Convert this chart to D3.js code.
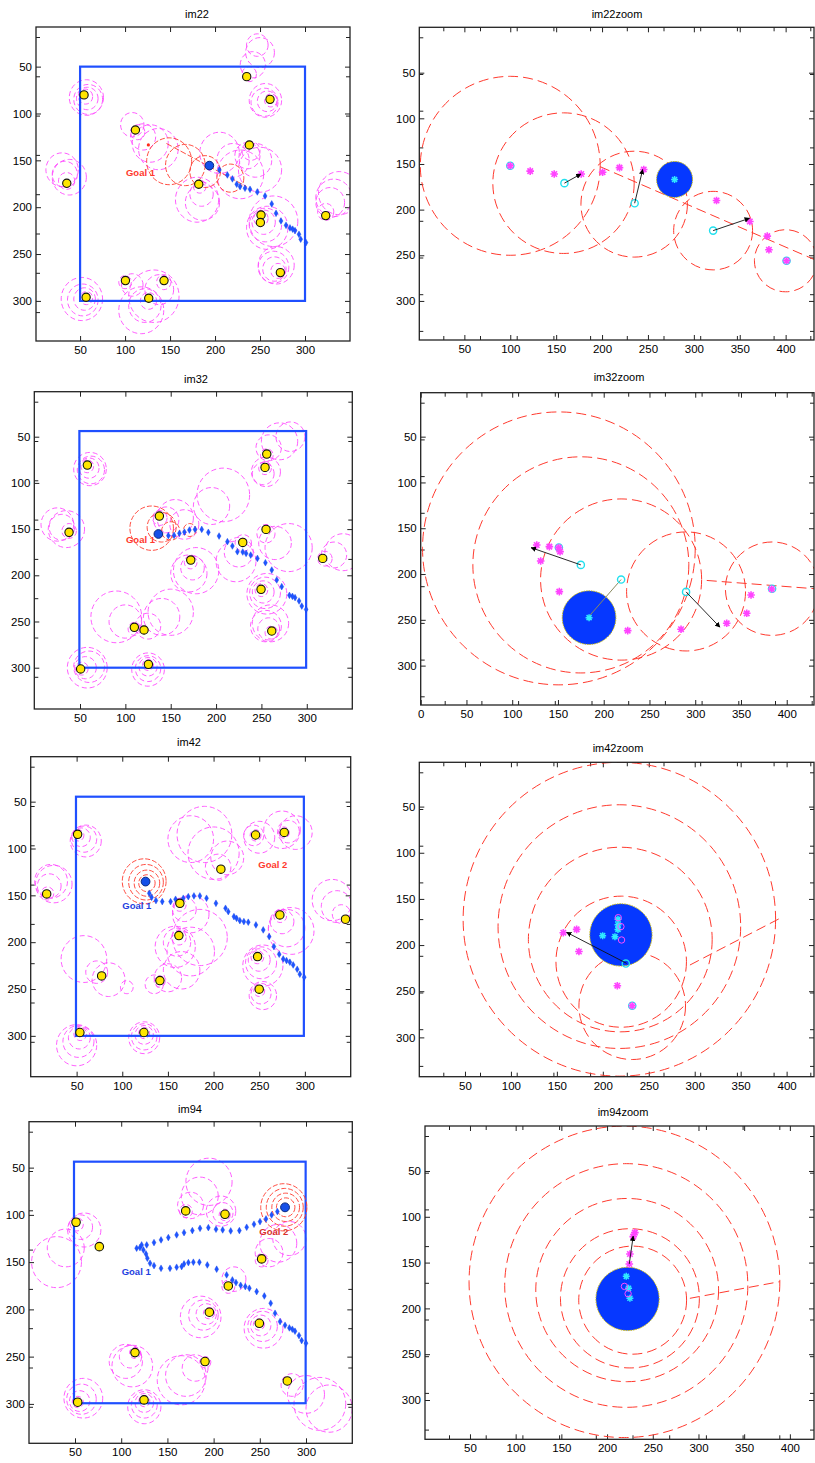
<!DOCTYPE html>
<html>
<head>
<meta charset="utf-8">
<script src="https://cdn.jsdelivr.net/npm/d3@7"></script>
<style>
body { margin: 0; background: #fff; }
svg { display: block; font-family: "Liberation Sans", Arial, Helvetica, sans-serif; }
</style>
</head>
<body>
<svg id="fig" width="815" height="1463"></svg>
<script>
// tick labels
var leftTicks = [50, 100, 150, 200, 250, 300];
var zoomXTicks = [0, 50, 100, 150, 200, 250, 300, 350, 400];
var zoomYTicks = [50, 100, 150, 200, 250, 300];

// ---------- im22 ----------
var im22Field = [50, 50, 300, 300];
var im22Obstacles = [[54.4,80.2],[235.2,60.7],[261.1,84.9],[111.5,117.6],[238.1,133.6],[35.2,174.5],[181.9,175.5],
  [251.1,208.3],[250.4,216.4],[323,209],[272.6,269.8],[100.4,278.3],[143.3,278.3],[56.7,296.1],[126.3,297.2]];
var im22Rings = [[56,82,8],[58,84,12],[59,85,16],[57,83,19],
  [238,58,8],[242,48,14],[250,35,16],[247,27,12],
  [262,86,7],[258,87,11],[255,88,15],[256,86,18],
  [114,120,8],[120,125,14],[128,132,20],[137,138,22],[108,112,13],
  [240,140,10],[245,150,18],[250,160,24],[236,145,14],[228,165,26],[205,142,22],[220,150,18],
  [35,172,9],[33,165,14],[30,160,18],[38,168,19],
  [183,178,7],[185,186,13],[186,195,19],[180,192,24],
  [251,212,8],[254,216,13],[256,219,18],[258,222,23],[265,215,27],
  [323,205,9],[328,195,16],[332,190,20],[338,185,23],
  [270,268,8],[266,266,13],[265,264,17],[268,262,20],
  [100,280,7],[108,283,12],[143,280,8],[138,288,16],[126,300,9],[122,305,18],[118,310,25],[132,295,28],
  [57,297,7],[55,298,12],[53,299,17],[52,298,23]];
var im22GoalRings = [[149,151,25],[167,155,22],[189,162,17],[217,169,15]];
var im22GoalLines = [[146,132,235,178]];
var im22Path = [[301.1,237.8],[295.2,234.2],[293.3,228.9],[288.9,225],[286.3,223.5],[283.3,222.1],[278.9,219.3],
  [273.3,214.7],[267.8,206.5],[263,196.5],[255.6,188],[247,183.7],[238.9,180.9],[233.3,179.8],[227.8,178],
  [224.1,175.5],[219.3,169.8],[213.7,165.6],[204.8,160.2]];
var im22Robot = [193.7, 155.6];
var im22Labels = [["Goal 1", 101, 164]];
var im22Dots = [[125.9, 133.6]];

// ---------- im32 ----------
var im32Field = [49.3, 43.9, 299.3, 300];
var im32Obstacles = [[58.1,80.7],[255.9,68.8],[254,83.2],[37.9,153.5],[137.5,135.9],[255.1,150.3],[229.4,164.4],
  [172.1,183.5],[317.6,181.7],[249.6,215.2],[109.9,256.3],[120.6,259.2],[261.4,260.3],[125.4,296.4],[50.7,301.4]];
var im32Rings = [[58,82,7],[60,84,11],[62,86,15],[61,85,18],
  [256,70,7],[258,62,14],[270,55,20],[282,50,16],[254,84,7],[252,90,12],[255,88,16],
  [38,152,8],[30,148,14],[25,145,18],[35,150,20],
  [138,138,8],[145,140,14],[155,138,20],[165,145,16],
  [208,113,29],[195,125,20],
  [255,155,10],[265,165,18],[280,170,26],[230,165,9],[225,175,16],[222,185,22],
  [172,186,7],[174,192,13],[170,198,20],[178,195,25],
  [320,182,8],[330,178,14],[340,175,20],
  [250,216,7],[252,218,12],[254,219,17],[256,220,22],
  [110,258,7],[100,250,18],[90,245,28],[125,255,14],[140,245,20],[150,240,25],
  [261,262,7],[258,258,12],[255,255,17],[260,252,20],
  [125,297,6],[125,299,10],[125,301,14],[125,302,18],
  [52,301,7],[56,300,12],[60,299,17],[58,300,22]];
var im32GoalRings = [[129,149,24],[140,148,16],[150,152,10],[171,151,7]];
var im32GoalLines = [];
var im32Path = [[299.3,236.9],[294.5,233.3],[291.5,227.8],[287.1,224.2],[284.2,222.8],[280.9,221.7],[272.4,212.3],
  [266.9,205.1],[261.4,194.3],[254.4,186.4],[245.6,181.7],[238.2,178.1],[233.1,176.3],[229.4,174.8],[223.5,174.5],
  [218,168.3],[212.5,163.6],[203.3,157.5],[191.5,153.5],[184.2,150.3],[176.8,150.3],[170.6,151],[165.1,153.2],
  [159.6,154.6],[153.7,156.8],[147.4,157.1]];
var im32Robot = [136.4, 155.3];
var im32Labels = [["Goal 1", 100.7, 162]];
var im32Dots = [];

// ---------- im42 ----------
var im42Field = [49.3, 44.7, 298.9, 300];
var im42Obstacles = [[51.1,84.9],[246,85.6],[277.4,82.8],[208,122.1],[17.2,148.5],[163.1,158.5],[272.6,170.9],
  [344.5,175.5],[162,193],[248.2,215.4],[77.4,236],[141.2,241],[250,250.2],[53.6,296.4],[123.7,296.4]];
var im42Rings = [[52,86,6],[55,88,10],[58,90,14],[60,92,17],
  [246,86,6],[244,86,11],[250,88,17],[277,83,6],[282,82,12],[290,83,18],[275,80,20],
  [175,90,25],[190,85,30],[200,105,28],[205,120,14],[215,110,18],
  [18,148,7],[20,140,13],[22,135,18],[25,138,20],
  [163,160,7],[168,165,13],[175,170,20],[162,195,8],[160,200,15],[158,205,22],[175,210,26],[185,195,30],
  [273,172,7],[275,178,13],[280,185,20],[285,188,25],
  [340,170,10],[335,162,17],[330,155,22],
  [248,216,7],[250,219,12],[252,222,17],[254,225,22],[250,252,6],[252,255,11],[254,257,15],
  [58,218,25],[72,232,12],[85,240,18],[105,248,7],
  [141,242,6],[135,245,10],[150,238,15],[165,230,20],
  [54,298,7],[53,302,12],[52,306,17],[50,310,22],
  [124,297,6],[124,299,10],[124,301,14],[124,302,17]];
var im42GoalRings = [[124,135,24],[126,136,19],[127,137,14],[127,137,9]];
var im42GoalLines = [];
var im42Path = [[299.3,237.4],[294.5,234.2],[291.6,228.9],[287.2,224.3],[283.6,221.4],[279.9,219.6],[276.3,217.9],
  [271.9,212.9],[266.1,204.7],[260.9,194],[254.4,186.9],[246.4,181.6],[238,178.7],[233.2,178],[228.8,177],
  [225.2,174.5],[222.3,172.7],[216.1,167.4],[213.1,163.8],[202.6,158.5],[192.3,153.1],[185,150.6],[178.5,150.6],
  [172.3,151.4],[166.8,153.1],[158.4,154.2],[152.9,156.7],[143.8,156.7],[136.9,155.6],[132.1,152.1],[129.6,147.8]];
var im42Robot = [125.5, 135.3];
var im42Labels = [["Goal 1", 100, 162], ["Goal 2", 249, 118.6]];
var im42Dots = [];

// ---------- im94 ----------
var im94Field = [48.9, 43.7, 299.6, 299.3];
var im94Obstacles = [[51.1,107.8],[76.3,133.6],[169.8,95.8],[212.3,99.4],[252,146.6],[215.9,175.2],[195.4,203],
  [249.5,214.7],[114.9,245.7],[190.7,255.2],[279.8,275.7],[52.9,298.2],[124.7,295.8]];
var im94Rings = [[52,110,7],[56,113,13],[60,116,18],[40,135,20],[30,150,27],
  [170,96,7],[175,90,14],[185,80,20],[195,65,25],[212,100,6],[210,98,11],[208,96,16],
  [252,148,7],[260,140,15],[270,130,20],[282,125,18],[216,176,7],[222,168,13],
  [195,204,6],[192,205,11],[189,206,16],[186,208,22],
  [249,216,6],[251,217,11],[253,218,16],[254,220,21],
  [115,246,6],[110,250,12],[105,255,18],[112,260,22],
  [191,256,6],[180,262,14],[170,270,22],[165,275,26],
  [285,280,12],[300,290,20],[315,300,28],[325,305,25],
  [53,298,6],[55,297,11],[57,295,16],[59,294,21],
  [125,297,6],[125,299,10],[125,301,14],[125,303,18]];
var im94GoalRings = [[276,92,25],[277,92,20],[278,92,15],[278,92,10]];
var im94GoalLines = [];
var im94Path = [[300,235.8],[295.3,233],[292.4,227.7],[288.1,223.1],[285.2,221],[282,219.6],[277.3,216.8],
  [271.9,212.9],[266.5,204.1],[261.8,193.5],[254.9,185.8],[246.6,181.2],[238.7,177.6],[234.3,175.9],[229.3,174.5],
  [224.2,171.6],[220.3,168.8],[214.1,163.5],[203.3,157.5],[193.2,153],[184.6,150.1],[178.1,150.1],[172.7,150.5],
  [168,151.9],[165.4,154.7],[160,155.4],[152.8,156.5],[143.1,156.5],[135.5,153.7],[131.2,151.2],[128.3,145.9],
  [126.8,141.3],[124,137.1],[120.3,134.6],[116.7,135.3],[122.1,131.8],[127.6,131.8],[135.5,129.3],[143.1,126.5],
  [151,124],[160,121.2],[168,118.8],[177,116.6],[185.3,114.2],[194.3,113.5],[202.6,115.2],[209.8,115.9],
  [218.5,117],[227.9,116.6],[235.8,113.1],[243.7,109.9],[250.2,107.1],[256.7,104.3],[262.8,100.1],[269,96.5]];
var im94Robot = [277.3, 92];
var im94Labels = [["Goal 1", 100.5, 161], ["Goal 2", 249.5, 118.4]];
var im94Dots = [];

// ---------- zoom panels ----------
var im22zRings = [[100,152,98],[158,171,77],[235,194,58],[321,223,43],[400,256,34]];
var im22zLines = [[198,153,432,255]];
var im22zDisc = [279, 167, 19.6];
var im22zCenters = [[100,152],[159,171],[235.5,193],[321,223],[401,256]];
var im22zMagCircles = [];
var im22zStars = [[100,152],[121.7,157.8],[147.9,161],[177.3,161],[200.6,159],[219,154],[245.4,156],[324.7,190],
  [361,213],[380,229],[381.8,244],[401,256]];
var im22zCyanStars = [[279,167]];
var im22zArrows = [[159,171,177,161],[235.5,193,244.3,156],[321,223,360.6,209.5]];
var im22zThin = [];

var im32zRings = [[151,172,149],[175,190,118],[219,206,88],[290,219,65],[384,216,51]];
var im32zLines = [[312.6,207,430,216]];
var im32zDisc = [184, 247.6, 29.3];
var im32zCenters = [[151,171],[175,190],[219,206],[290,219.5],[384,216]];
var im32zMagCircles = [];
var im32zStars = [[126.8,168.3],[140.6,170.1],[150.8,171.2],[152.3,175.5],[131.1,185.7],[151.5,219.2],[226.2,261.8],
  [284.5,260.3],[334.4,253.8],[356.3,242.9],[361,222.9],[383.6,216.3]];
var im32zCyanStars = [[184,247.6]];
var im32zArrows = [[175,190,120.6,171.2],[290,219.5,327,258]];
var im32zThin = [[219,206,185,245]];

var im42zRings = [[218,172,170],[218,180,132],[219,194,100],[220,218,71],[232,266,58]];
var im42zLines = [[294.8,221.6,392.8,171]];
var im42zDisc = [219.7, 189, 33.9];
var im42zCenters = [[232,265.7],[225,220]];
var im42zMagCircles = [[216.8,170.3],[219.7,180],[220.4,194.5]];
var im42zStars = [[157,186.6],[171.5,183],[174,207],[215.8,244],[232,265.7]];
var im42zCyanStars = [[199.8,189.8],[213.2,190.9],[216.5,172],[216.5,178],[216.5,183]];
var im42zArrows = [[225.9,219.8,160.6,186.2]];
var im42zThin = [];

var im94zRings = [[219,171,170],[221,175,133],[222,180,100],[225,189,76],[228,191,59]];
var im94zLines = [[290.6,189,389,170.8]];
var im94zDisc = [222.4, 189.7, 34.6];
var im94zCenters = [];
var im94zMagCircles = [[219,176],[223,184]];
var im94zStars = [[230.4,117.3],[228.6,121.7],[225,140.6],[224.3,151.5]];
var im94zCyanStars = [[221,165],[223.5,178],[225,189]];
var im94zArrows = [[224.3,151.5,228.6,121]];
var im94zThin = [];

// layout
var leftPanels = [
  {name: "im22", box: {l: 36, r: 350, t: 27, b: 341}, xd: [1, 350], yd: [7.7, 342.8], tx: 197, ty: 18,
   field: im22Field, obstacles: im22Obstacles, rings: im22Rings, goalRings: im22GoalRings, goalLines: im22GoalLines,
   path: im22Path, robot: im22Robot, labels: im22Labels, dots: im22Dots, labelColors: ["#ff3a2e"]},
  {name: "im32", box: {l: 34.3, r: 352.3, t: 391.7, b: 709}, xd: [-0.4, 350.2], yd: [1.3, 344.7], tx: 196, ty: 383,
   field: im32Field, obstacles: im32Obstacles, rings: im32Rings, goalRings: im32GoalRings, goalLines: im32GoalLines,
   path: im32Path, robot: im32Robot, labels: im32Labels, dots: im32Dots, labelColors: ["#ff3a2e"]},
  {name: "im42", box: {l: 30.7, r: 350.7, t: 756.7, b: 1076.7}, xd: [-0.3, 350.2], yd: [2, 343.6], tx: 189, ty: 746,
   field: im42Field, obstacles: im42Obstacles, rings: im42Rings, goalRings: im42GoalRings, goalLines: im42GoalLines,
   path: im42Path, robot: im42Robot, labels: im42Labels, dots: im42Dots, labelColors: ["#1f3fe0", "#ff3a2e"]},
  {name: "im94", box: {l: 29, r: 352.3, t: 1121.7, b: 1443.3}, xd: [0.2, 350.1], yd: [1.4, 341.7], tx: 190, ty: 1113,
   field: im94Field, obstacles: im94Obstacles, rings: im94Rings, goalRings: im94GoalRings, goalLines: im94GoalLines,
   path: im94Path, robot: im94Robot, labels: im94Labels, dots: im94Dots, labelColors: ["#1f3fe0", "#d8302c"]}
];

var zoomPanels = [
  {name: "im22zoom", box: {l: 419.3, r: 814, t: 27.3, b: 340}, xd: [0.9, 430.9], yd: [0.3, 342.8], tx: 617, ty: 18,
   rings: im22zRings, lines: im22zLines, disc: im22zDisc, centers: im22zCenters, mag: im22zMagCircles,
   stars: im22zStars, cstars: im22zCyanStars, arrows: im22zArrows, thin: im22zThin},
  {name: "im32zoom", box: {l: 420.7, r: 814, t: 392.7, b: 705}, xd: [0, 429.8], yd: [2, 343], tx: 619, ty: 381,
   rings: im32zRings, lines: im32zLines, disc: im32zDisc, centers: im32zCenters, mag: im32zMagCircles,
   stars: im32zStars, cstars: im32zCyanStars, arrows: im32zArrows, thin: im32zThin},
  {name: "im42zoom", box: {l: 419.3, r: 814, t: 762.3, b: 1076.7}, xd: [0.3, 429.8], yd: [2, 342.6], tx: 618, ty: 752,
   rings: im42zRings, lines: im42zLines, disc: im42zDisc, centers: im42zCenters, mag: im42zMagCircles,
   stars: im42zStars, cstars: im42zCyanStars, arrows: im42zArrows, thin: im42zThin},
  {name: "im94zoom", box: {l: 425, r: 814, t: 1126, b: 1439.3}, xd: [0.8, 426.4], yd: [0.9, 342.9], tx: 623, ty: 1116,
   rings: im94zRings, lines: im94zLines, disc: im94zDisc, centers: im94zCenters, mag: im94zMagCircles,
   stars: im94zStars, cstars: im94zCyanStars, arrows: im94zArrows, thin: im94zThin}
];

var svg = d3.select("#fig");
var defs = svg.append("defs");
defs.append("marker").attr("id", "arrowhead")
  .attr("viewBox", "0 0 10 10").attr("refX", 9).attr("refY", 5)
  .attr("markerWidth", 6).attr("markerHeight", 6).attr("orient", "auto")
  .append("path").attr("d", "M0,0L10,5L0,10z").attr("fill", "#000");

function inside(vals, dom) {
  return vals.filter(function(v) { return v >= Math.min(dom[0], dom[1]) && v <= Math.max(dom[0], dom[1]); });
}

// one MATLAB style axes: box, inward ticks, extra offset ticks of the image axes underneath
function makeAxes(p, xt, yt, ghostX, ghostY) {
  var b = p.box;
  var x = d3.scaleLinear().domain(p.xd).range([b.l, b.r]);
  var y = d3.scaleLinear().domain(p.yd).range([b.t, b.b]);
  var g = svg.append("g").attr("class", "panel " + p.name);

  defs.append("clipPath").attr("id", "clip-" + p.name)
    .append("rect").attr("x", b.l).attr("y", b.t).attr("width", b.r - b.l).attr("height", b.b - b.t);

  g.append("text").attr("x", p.tx).attr("y", p.ty).attr("text-anchor", "middle")
    .attr("font-size", 11).attr("fill", "#000").text(p.name);

  var xs = inside(xt, p.xd), ys = inside(yt, p.yd);
  var axB = g.append("g").attr("transform", "translate(0," + b.b + ")")
    .call(d3.axisBottom(x).tickValues(xs).tickSize(-5).tickPadding(5).tickFormat(d3.format("d")));
  var axT = g.append("g").attr("transform", "translate(0," + b.t + ")")
    .call(d3.axisTop(x).tickValues(xs).tickSize(-5).tickFormat(""));
  var axL = g.append("g").attr("transform", "translate(" + b.l + ",0)")
    .call(d3.axisLeft(y).tickValues(ys).tickSize(-5).tickPadding(4).tickFormat(d3.format("d")));
  var axR = g.append("g").attr("transform", "translate(" + b.r + ",0)")
    .call(d3.axisRight(y).tickValues(ys).tickSize(-5).tickFormat(""));

  if (ghostX) {
    var gx = d3.scaleLinear().domain([0, (b.r - b.l) * 50 / ghostX]).range([b.l + 24, b.r + 24]);
    var gxt = gx.ticks(12).filter(function(v) { return gx(v) < b.r - 1; });
    g.append("g").attr("transform", "translate(0," + b.b + ")")
      .call(d3.axisBottom(gx).tickValues(gxt).tickSize(-4).tickFormat(""));
    g.append("g").attr("transform", "translate(0," + b.t + ")")
      .call(d3.axisTop(gx).tickValues(gxt).tickSize(-4).tickFormat(""));
  }
  if (ghostY) {
    var gy = d3.scaleLinear().domain([0, (b.b - b.t) * 50 / ghostY]).range([b.t + 10, b.b + 10]);
    var gyt = gy.ticks(12).filter(function(v) { return gy(v) < b.b - 1; });
    g.append("g").attr("transform", "translate(" + b.l + ",0)")
      .call(d3.axisLeft(gy).tickValues(gyt).tickSize(-4).tickFormat(""));
    g.append("g").attr("transform", "translate(" + b.r + ",0)")
      .call(d3.axisRight(gy).tickValues(gyt).tickSize(-4).tickFormat(""));
  }

  g.selectAll(".domain").remove();
  g.selectAll(".tick line").attr("stroke", "#222");
  g.selectAll(".tick text").attr("font-size", 11.5).attr("fill", "#000")
    .attr("font-family", "'Liberation Sans', Arial, Helvetica, sans-serif");

  var plot = g.append("g").attr("clip-path", "url(#clip-" + p.name + ")");
  g.append("rect").attr("x", b.l).attr("y", b.t).attr("width", b.r - b.l).attr("height", b.b - b.t)
    .attr("fill", "none").attr("stroke", "#222").attr("stroke-width", 1.3);
  return {x: x, y: y, plot: plot};
}

function starPath(s) {
  var a = s * 0.72;
  return "M" + (-s) + ",0H" + s + "M0," + (-s) + "V" + s +
    "M" + (-a) + "," + (-a) + "L" + a + "," + a + "M" + (-a) + "," + a + "L" + a + "," + (-a);
}

function drawLeft(p) {
  var ax = makeAxes(p, leftTicks, leftTicks, 0, 39.3);
  var x = ax.x, y = ax.y, g = ax.plot;
  var rx = function(r) { return x(r) - x(0); };
  var ry = function(r) { return y(r) - y(0); };

  g.selectAll(".mring").data(p.rings).enter().append("ellipse")
    .attr("cx", function(d) { return x(d[0]); }).attr("cy", function(d) { return y(d[1]); })
    .attr("rx", function(d) { return rx(d[2]); }).attr("ry", function(d) { return ry(d[2]); })
    .attr("fill", "none").attr("stroke", "#ff4cff").attr("stroke-width", 0.9)
    .attr("stroke-dasharray", "5,3");

  var f = p.field;
  g.append("rect").attr("x", x(f[0])).attr("y", y(f[1]))
    .attr("width", x(f[2]) - x(f[0])).attr("height", y(f[3]) - y(f[1]))
    .attr("fill", "none").attr("stroke", "#1f4fff").attr("stroke-width", 2.2);

  g.selectAll(".gring").data(p.goalRings).enter().append("ellipse")
    .attr("cx", function(d) { return x(d[0]); }).attr("cy", function(d) { return y(d[1]); })
    .attr("rx", function(d) { return rx(d[2]); }).attr("ry", function(d) { return ry(d[2]); })
    .attr("fill", "none").attr("stroke", "#ff3a2e").attr("stroke-width", 0.9)
    .attr("stroke-dasharray", "5,2");

  g.selectAll(".gline").data(p.goalLines).enter().append("line")
    .attr("x1", function(d) { return x(d[0]); }).attr("y1", function(d) { return y(d[1]); })
    .attr("x2", function(d) { return x(d[2]); }).attr("y2", function(d) { return y(d[3]); })
    .attr("stroke", "#ff3a2e").attr("stroke-width", 0.9).attr("stroke-dasharray", "6,2");

  g.selectAll(".rdot").data(p.dots).enter().append("circle")
    .attr("cx", function(d) { return x(d[0]); }).attr("cy", function(d) { return y(d[1]); })
    .attr("r", 1.6).attr("fill", "#ff2a1a");

  var diamond = d3.symbol().type(d3.symbolDiamond).size(13);
  g.selectAll(".pt").data(p.path).enter().append("path")
    .attr("transform", function(d) { return "translate(" + x(d[0]) + "," + y(d[1]) + ")"; })
    .attr("d", diamond).attr("fill", "#1f55ff").attr("stroke", "#1040e8").attr("stroke-width", 0.4);

  g.selectAll(".obs").data(p.obstacles).enter().append("circle")
    .attr("cx", function(d) { return x(d[0]); }).attr("cy", function(d) { return y(d[1]); })
    .attr("r", rx(4.6)).attr("fill", "#ffe600").attr("stroke", "#111").attr("stroke-width", 1.1);

  g.append("circle").attr("cx", x(p.robot[0])).attr("cy", y(p.robot[1])).attr("r", rx(4.8))
    .attr("fill", "#1450e8").attr("stroke", "#0a2a80").attr("stroke-width", 1);

  g.selectAll(".lbl").data(p.labels).enter().append("text")
    .attr("x", function(d) { return x(d[1]); }).attr("y", function(d) { return y(d[2]); })
    .attr("dominant-baseline", "middle").attr("font-size", 9.5).attr("font-weight", "bold")
    .attr("fill", function(d, i) { return p.labelColors[i]; })
    .text(function(d) { return d[0]; });
}

function drawZoom(p) {
  var ax = makeAxes(p, zoomXTicks, zoomYTicks, 36.7, 36.7);
  var x = ax.x, y = ax.y, g = ax.plot;
  var rx = function(r) { return x(r) - x(0); };
  var ry = function(r) { return y(r) - y(0); };

  g.selectAll(".zring").data(p.rings).enter().append("ellipse")
    .attr("cx", function(d) { return x(d[0]); }).attr("cy", function(d) { return y(d[1]); })
    .attr("rx", function(d) { return rx(d[2]); }).attr("ry", function(d) { return ry(d[2]); })
    .attr("fill", "none").attr("stroke", "#ff3a2e").attr("stroke-width", 1)
    .attr("stroke-dasharray", "10,5");

  g.selectAll(".zline").data(p.lines).enter().append("line")
    .attr("x1", function(d) { return x(d[0]); }).attr("y1", function(d) { return y(d[1]); })
    .attr("x2", function(d) { return x(d[2]); }).attr("y2", function(d) { return y(d[3]); })
    .attr("stroke", "#ff3a2e").attr("stroke-width", 1).attr("stroke-dasharray", "10,5");

  g.append("circle").attr("cx", x(p.disc[0])).attr("cy", y(p.disc[1])).attr("r", rx(p.disc[2]))
    .attr("fill", "#0638ff").attr("stroke", "#c9b800").attr("stroke-width", 1)
    .attr("stroke-dasharray", "1.5,1");

  g.selectAll(".thin").data(p.thin).enter().append("line")
    .attr("x1", function(d) { return x(d[0]); }).attr("y1", function(d) { return y(d[1]); })
    .attr("x2", function(d) { return x(d[2]); }).attr("y2", function(d) { return y(d[3]); })
    .attr("stroke", "#8a8a60").attr("stroke-width", 1);

  g.selectAll(".cstar").data(p.cstars).enter().append("path")
    .attr("transform", function(d) { return "translate(" + x(d[0]) + "," + y(d[1]) + ")"; })
    .attr("d", starPath(3.5)).attr("stroke", "#30eaff").attr("stroke-width", 1.5).attr("fill", "none");

  g.selectAll(".mcirc").data(p.mag).enter().append("circle")
    .attr("cx", function(d) { return x(d[0]); }).attr("cy", function(d) { return y(d[1]); })
    .attr("r", 3.2).attr("fill", "none").attr("stroke", "#ff4cff").attr("stroke-width", 1);

  g.selectAll(".cen").data(p.centers).enter().append("circle")
    .attr("cx", function(d) { return x(d[0]); }).attr("cy", function(d) { return y(d[1]); })
    .attr("r", 3.6).attr("fill", "none").attr("stroke", "#22e0ee").attr("stroke-width", 1.4);

  g.selectAll(".star").data(p.stars).enter().append("path")
    .attr("transform", function(d) { return "translate(" + x(d[0]) + "," + y(d[1]) + ")"; })
    .attr("d", starPath(3.8)).attr("stroke", "#ff44ff").attr("stroke-width", 1.6).attr("fill", "none");

  g.selectAll(".arr").data(p.arrows).enter().append("line")
    .attr("x1", function(d) { return x(d[0]); }).attr("y1", function(d) { return y(d[1]); })
    .attr("x2", function(d) { return x(d[2]); }).attr("y2", function(d) { return y(d[3]); })
    .attr("stroke", "#111").attr("stroke-width", 0.9).attr("marker-end", "url(#arrowhead)");
}

leftPanels.forEach(drawLeft);
zoomPanels.forEach(drawZoom);
</script>
</body>
</html>
